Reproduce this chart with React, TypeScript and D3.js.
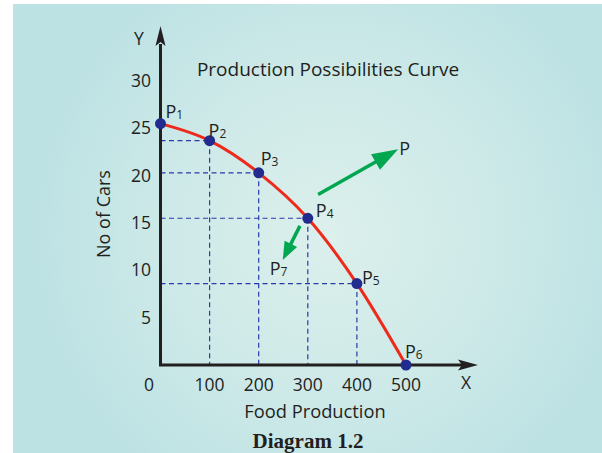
import React from "react";
import * as d3 from "d3";

const foodValues = [0, 100, 200, 300, 400, 500];
const carValues = [25.5, 23.7, 20.3, 15.5, 8.6, 0];
const pointNames = ["1", "2", "3", "4", "5", "6"];
const xTicks = [0, 100, 200, 300, 400, 500];
const yTicks = [5, 10, 15, 20, 25, 30];
// annotation arrows in data units [x1, y1, x2, y2]
const arrowOut = [321, 18.0, 484, 22.8];
const arrowIn = [284, 14.7, 249, 11.1];

const W = 602;
const H = 453;
const FONT = "'Open Sans', 'Noto Sans', sans-serif";
const INK = "#231f20";

export default function App() {
  const x = d3.scaleLinear().domain([0, 500]).range([160.5, 406]);
  const y = d3.scaleLinear().domain([0, 30]).range([365, 81]);
  const pts = foodValues.map((f, i) => ({ f, c: carValues[i], n: pointNames[i] }));
  const line = d3
    .line<{ f: number; c: number }>()
    .x((d) => x(d.f))
    .y((d) => y(d.c))
    .curve(d3.curveMonotoneX);

  const x0 = x(0);
  const y0 = y(0);

  const arrow = (a: number[], headLen: number, headHalf: number, sw: number) => {
    const x1 = x(a[0]), y1 = y(a[1]), x2 = x(a[2]), y2 = y(a[3]);
    const ang = Math.atan2(y2 - y1, x2 - x1);
    const bx = x2 - headLen * Math.cos(ang);
    const by = y2 - headLen * Math.sin(ang);
    const px = -Math.sin(ang) * headHalf;
    const py = Math.cos(ang) * headHalf;
    return (
      <g>
        <line x1={x1} y1={y1} x2={bx + Math.cos(ang) * 2} y2={by + Math.sin(ang) * 2} stroke="#00a650" strokeWidth={sw} />
        <polygon points={`${x2},${y2} ${bx + px},${by + py} ${bx - px},${by - py}`} fill="#00a650" />
      </g>
    );
  };

  const labelOffsets: Record<string, [number, number]> = {
    "1": [5, -6],
    "2": [-1, -4],
    "3": [2, -8],
    "4": [8, -1],
    "5": [5, 0],
    "6": [-1, -7],
  };

  return (
    <svg width={W} height={H} style={{ position: "absolute", left: 0, top: 0 }}>
      <defs>
        <radialGradient id="bg" cx="330" cy="235" r="300" gradientUnits="userSpaceOnUse">
          <stop offset="0" stopColor="#dcf0ec" />
          <stop offset="0.55" stopColor="#cde9e8" />
          <stop offset="1" stopColor="#bde2e4" />
        </radialGradient>
      </defs>
      <rect x={0} y={0} width={W} height={H} fill="#ffffff" />
      <rect x={13} y={4} width={W - 13} height={H - 4} fill="url(#bg)" />

      {/* dashed guide lines */}
      {pts.slice(1, 5).map((p, i) => (
        <g key={"d" + i}>
          <line x1={x0} y1={y(p.c)} x2={x(p.f)} y2={y(p.c)} stroke="#2b3aa8" strokeWidth={1.2} strokeDasharray="5,3.5" />
          <line x1={x(p.f)} y1={y(p.c)} x2={x(p.f)} y2={y0} stroke="#2b3aa8" strokeWidth={1.2} strokeDasharray="5,3.5" />
        </g>
      ))}

      {/* axes */}
      <line x1={x0} y1={y0} x2={x0} y2={44} stroke={INK} strokeWidth={3} />
      <polygon points={`${x0},26 ${x0 - 5},46 ${x0},42 ${x0 + 5},46`} fill={INK} />
      <line x1={x0 - 1.5} y1={y0} x2={464} y2={y0} stroke={INK} strokeWidth={3} />
      <polygon points={`478,${y0} 458,${y0 - 5.5} 462,${y0} 458,${y0 + 5.5}`} fill={INK} />

      {/* curve */}
      <path d={line(pts) || ""} fill="none" stroke="#ee2a1c" strokeWidth={3} />

      {/* arrows */}
      {arrow(arrowOut, 26, 9, 3.5)}
      {arrow(arrowIn, 18, 7, 3.5)}

      {/* points */}
      {pts.map((p) => (
        <circle key={p.n} cx={x(p.f)} cy={y(p.c)} r={5.5} fill="#222c8e" />
      ))}

      {/* point labels */}
      <g fontFamily={FONT} fill={INK} fontSize={18}>
        {pts.map((p) => {
          const o = labelOffsets[p.n];
          return (
            <text key={"l" + p.n} x={x(p.f) + o[0]} y={y(p.c) + o[1]}>
              P<tspan fontSize={12} dy={1}>{p.n}</tspan>
            </text>
          );
        })}
        <text x={x(arrowOut[2]) + 1} y={y(arrowOut[3]) + 6}>P</text>
        <text x={x(arrowIn[2]) - 13} y={y(arrowIn[3]) + 15}>
          P<tspan fontSize={12} dy={1}>7</tspan>
        </text>
      </g>

      {/* tick labels */}
      <g fontFamily={FONT} fill={INK} fontSize={17.5}>
        {yTicks.map((t) => (
          <text key={"y" + t} x={151} y={y(t)} dy="0.35em" textAnchor="end">
            {t}
          </text>
        ))}
        <text x={149} y={385} dy="0.35em" textAnchor="middle">0</text>
        {xTicks.slice(1).map((t) => (
          <text key={"x" + t} x={x(t)} y={385} dy="0.35em" textAnchor="middle">
            {t}
          </text>
        ))}
        <text x={466} y={383} dy="0.35em" textAnchor="middle">X</text>
        <text x={139} y={39} dy="0.35em" textAnchor="middle">Y</text>
      </g>

      {/* titles */}
      <text x={328} y={69} dy="0.35em" textAnchor="middle" fontFamily={FONT} fontSize={19} fill={INK}>
        Production Possibilities Curve
      </text>
      <text x={315} y={412} dy="0.35em" textAnchor="middle" fontFamily={FONT} fontSize={18.3} fill={INK}>
        Food Production
      </text>
      <text
        transform={`translate(104,214) rotate(-90)`}
        dy="0.35em"
        textAnchor="middle"
        fontFamily={FONT}
        fontSize={18}
        fill={INK}
      >
        No of Cars
      </text>
      <text x={308} y={441} dy="0.35em" textAnchor="middle" fontFamily="'Liberation Serif', serif" fontWeight="bold" fontSize={21} fill={INK}>
        Diagram 1.2
      </text>
    </svg>
  );
}
